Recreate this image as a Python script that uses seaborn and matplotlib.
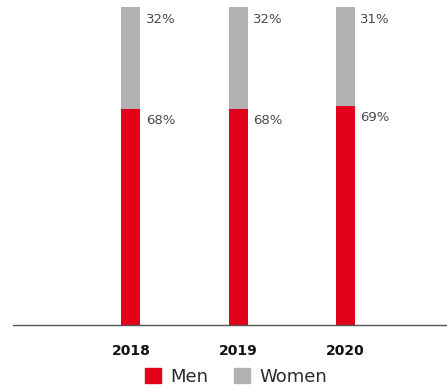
import matplotlib
matplotlib.use("Agg")
import matplotlib.pyplot as plt
import seaborn as sns
import pandas as pd
from matplotlib.patches import Patch

years = ["2018", "2019", "2020"]
men = [68, 68, 69]
women = [32, 32, 31]

RED = "#E2001A"
GREY = "#B2B2B2"

sns.set_theme(style="white")
plt.rcParams["font.family"] = ["DejaVu Sans"]

df = pd.DataFrame({"year": years, "men": men, "women": women})
df["total"] = df["men"] + df["women"]

fig = plt.figure(figsize=(4.47, 3.90), dpi=100)
ax = fig.add_axes([13 / 447, 1 - 325 / 390, 434 / 447, 318 / 390])

bw = 19 / 107
sns.barplot(data=df, x="year", y="total", color=GREY, width=bw, ax=ax,
            saturation=1, linewidth=0)
sns.barplot(data=df, x="year", y="men", color=RED, width=bw, ax=ax,
            saturation=1, linewidth=0)

ax.set_xlim(-1.10, 2.95)
ax.set_ylim(0, 100)

for i, (m, w) in enumerate(zip(men, women)):
    xr = i + bw / 2
    ax.annotate(f"{w}%", (xr, m + w), xytext=(4, -4), textcoords="offset points",
                ha="left", va="top", fontsize=9.5, color="#4a4a4a")
    ax.annotate(f"{m}%", (xr, m), xytext=(4, -4), textcoords="offset points",
                ha="left", va="top", fontsize=9.5, color="#4a4a4a")

for s in ["top", "right", "left"]:
    ax.spines[s].set_visible(False)
ax.spines["bottom"].set_color("#555555")
ax.spines["bottom"].set_linewidth(1)
ax.set_yticks([])
ax.set_xlabel("")
ax.set_ylabel("")
ax.tick_params(axis="x", length=0, pad=14)
for lbl in ax.get_xticklabels():
    lbl.set_fontweight("bold")
    lbl.set_fontsize(10)
    lbl.set_color("#111111")

handles = [Patch(color=RED, label="Men"), Patch(color=GREY, label="Women")]
fig.legend(handles=handles, loc="center", bbox_to_anchor=(236 / 447, 1 - 377 / 390),
           ncol=2, frameon=False, fontsize=13, handlelength=0.9, handleheight=0.9,
           handletextpad=0.5, columnspacing=1.4, labelcolor="#2a2a2a")

fig.savefig("out.png", dpi=100)
